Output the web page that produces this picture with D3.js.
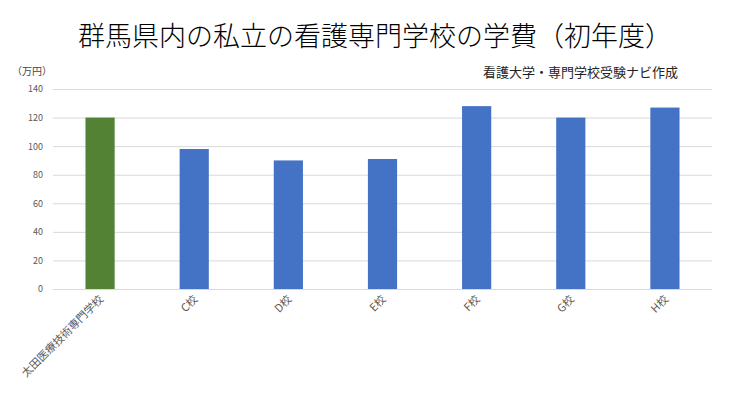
<!DOCTYPE html><html><head><meta charset="utf-8"><script src="https://cdn.jsdelivr.net/npm/d3@7"></script>
<style>body{margin:0;background:#fff}text{font-family:"Noto Sans CJK JP",sans-serif}</style></head><body><svg width="730" height="411"></svg>
<script>
const categories=["太田医療技術専門学校","C校","D校","E校","F校","G校","H校"];
const values=[120,98,90,91,128,120,127];
const colors=["#548235","#4472C4","#4472C4","#4472C4","#4472C4","#4472C4","#4472C4"];
const ticks=[0,20,40,60,80,100,120,140];
const svg=d3.select("svg");
const x=d3.scaleBand().domain(categories).range([53,712]).paddingInner(0.69).paddingOuter(0.345);
const y=d3.scaleLinear().domain([0,140]).range([289,89]);
svg.append("text").attr("x",375).attr("y",46).attr("text-anchor","middle").attr("font-size",27).attr("font-weight",300).attr("fill","#000").text("群馬県内の私立の看護専門学校の学費（初年度）");
svg.append("text").attr("x",678).attr("y",77).attr("text-anchor","end").attr("font-size",13).attr("fill","#222").text("看護大学・専門学校受験ナビ作成");
svg.append("text").attr("x",12).attr("y",75).attr("font-size",10).attr("fill","#444").text("（万円）");
const ga=svg.append("g").attr("transform","translate(53,0)").call(d3.axisLeft(y).tickValues(ticks).tickSize(-659).tickPadding(10));
ga.select(".domain").remove();
ga.selectAll("line").attr("stroke","#d9d9d9");
ga.selectAll("text").attr("fill","#595959").attr("font-size",9);
svg.selectAll("rect.b").data(values).join("rect").attr("x",(d,i)=>x(categories[i])).attr("width",x.bandwidth()).attr("y",d=>y(d)).attr("height",d=>y(0)-y(d)).attr("fill",(d,i)=>colors[i]);
svg.append("line").attr("x1",53).attr("x2",712).attr("y1",289.5).attr("y2",289.5).attr("stroke","#d9d9d9");
svg.selectAll("text.c").data(categories).join("text").attr("font-size",11).attr("fill","#595959").attr("text-anchor","end")
 .attr("transform",d=>`translate(${x(d)+x.bandwidth()/2+4},${300}) rotate(-45)`).text(d=>d);
</script></body></html>
